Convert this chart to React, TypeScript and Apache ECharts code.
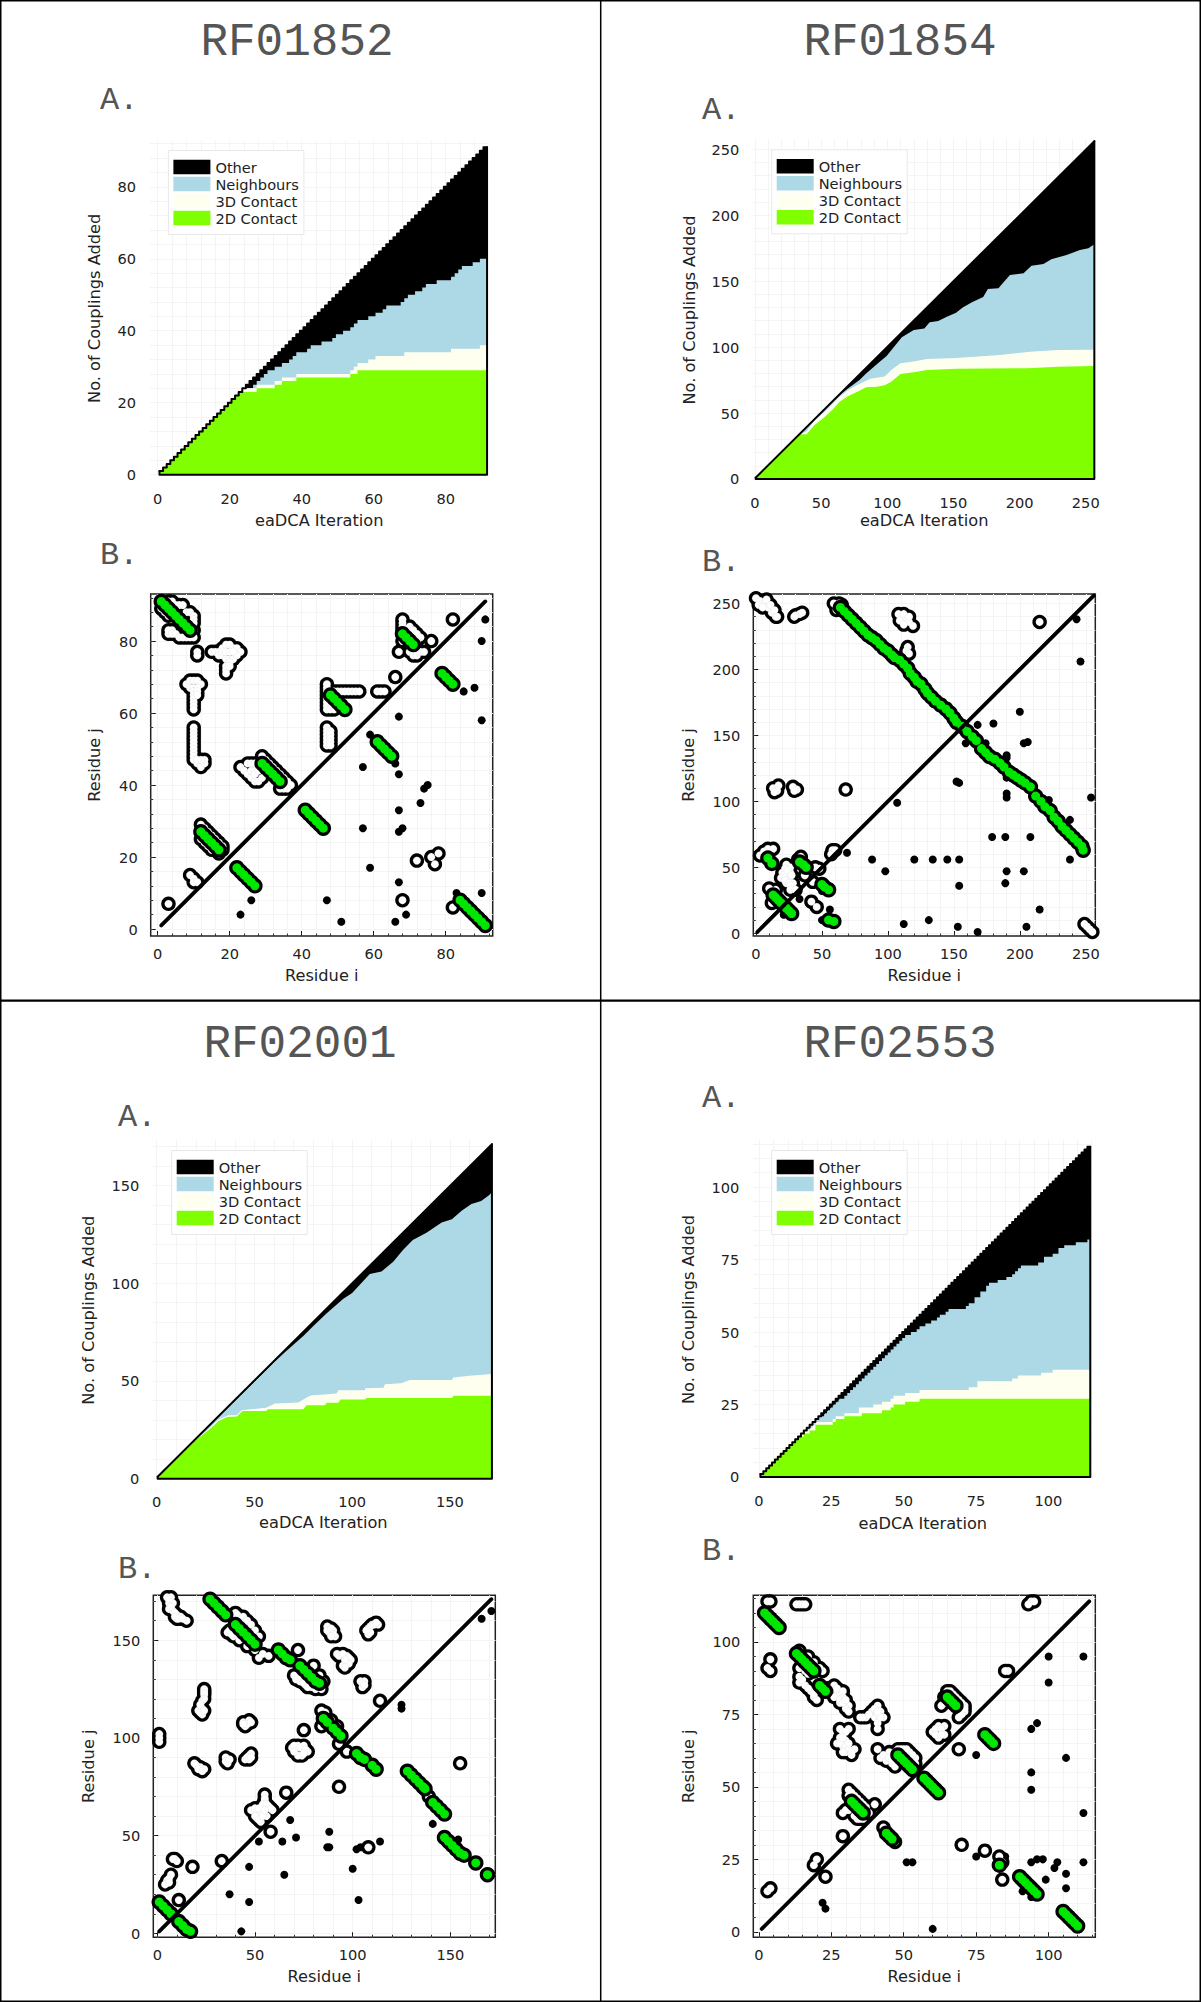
import React, { useEffect, useRef } from "react";
import * as echarts from "echarts";

// ---------- legend ----------
const legendNames = ["Other", "Neighbours", "3D Contact", "2D Contact"];

// ---------- RF01852, part A ----------
const rf01852Total = [1,2,3,4,5,6,7,8,9,10,11,12,13,14,15,16,17,18,19,20,21,22,23,24,25,26,27,28,29,30,31,32,33,34,35,36,37,38,39,40,41,42,43,44,45,46,47,48,49,50,51,52,53,54,55,56,57,58,59,60,61,62,63,64,65,66,67,68,69,70,71,72,73,74,75,76,77,78,79,80,81,82,83,84,85,86,87,88,89,90,91];
const rf01852Early = [[1,1],[2,2],[3,3],[4,4],[5,5],[6,6],[7,7],[8,8],[9,9],[10,10],[11,11],[12,12],[13,13],[14,14],[15,15],[16,16],[17,17],[18,18],[19,19],[20,20],[21,21],[22,22]];
const rf01852Green = [[23,23],[28,24],[33,25],[35,26],[39,27],[54,28],[56,29]];
const rf01852Cream = [[23,23],[24,24],[28,25],[33,26],[35,27],[39,28],[54,29],[55,30],[56,31],[59,32],[61,33],[69,34],[82,35],[90,36]];
const rf01852Blue = [[23,23],[24,24],[27,25],[28,26],[29,27],[30,28],[31,29],[33,30],[35,31],[37,32],[38,33],[39,34],[42,35],[43,36],[46,37],[49,38],[50,39],[52,40],[54,41],[55,42],[56,43],[59,44],[61,45],[63,46],[64,47],[68,48],[69,49],[70,50],[72,51],[74,52],[75,53],[78,54],[82,55],[83,56],[84,57],[85,58],[88,59],[90,60]];

// ---------- RF01854, part A ----------
const rf01854Total = [[0.5,1],[256.5,256]];
const rf01854Green = [[0.5,1],[34,33.9],[39,34],[45,41],[52,46.5],[58,52],[64,58.6],[70.5,63],[77,66],[84,69.5],[92,70],[98,71],[103,73.8],[110,79.6],[120,81],[130,82.6],[152,83.6],[206,84],[229,85],[256.5,85.6]];
const rf01854Cream = [[0.5,1],[34,34],[39,36],[45,44.7],[52,50],[58,56],[64,62.4],[70.5,67.5],[77,71],[87,76],[98,77.6],[103,82.6],[110,87.7],[120,89],[130,91],[152,91.7],[185,94],[208,96.5],[229,97.8],[256.5,98]];
const rf01854Blue = [[0.5,1],[60,60],[64,63.7],[70.5,68.7],[79,75],[84,80],[94.5,89],[99.5,93.2],[105,100],[111,107.4],[120,113],[128,114],[132,118.8],[138.5,119.8],[145,123],[152,126],[157,130],[164,134],[172.5,138],[176,144],[184,144.6],[192.7,154.7],[203,156],[209,161.7],[218,163],[224,166.5],[235.5,169.8],[245.6,173.6],[252,175],[256.5,178]];

// ---------- RF02001, part A ----------
const rf02001Total = [[0.5,1],[171.5,171]];
const rf02001Green = [[0.5,1],[20.5,20.2],[24,22.8],[28,26],[31.5,29.4],[36,31.5],[41,31.8],[44,34.6],[56,34.6],[57,35.5],[75,35.5],[76.7,37.5],[86,37.5],[87,38.8],[93,38.8],[94,40.5],[106.6,40.5],[107.4,41.3],[151,41.3],[152,42.4],[171.5,42.4]];
const rf02001Cream = [[0.5,1],[20.5,20.6],[24,23.3],[28,26.7],[31.5,30.3],[36.7,32.4],[41,32.4],[43.5,35],[56,36.3],[60.5,38.4],[72.5,39],[76.7,41.5],[79.3,42.7],[86,43],[92,43.6],[93,45.2],[106.6,45.2],[106.6,46.2],[116,46.5],[116.8,48.3],[125,48.8],[129.6,50.5],[151,50.5],[151.7,51.7],[160,52.6],[171.5,53.6]];
const rf02001Blue = [[0.5,1],[60,59.5],[66,65],[75,73],[80,78],[87,84.6],[95.5,92],[100,95],[109,104.7],[115,106],[121,111],[126,117],[131,122],[138,125.8],[145.8,131],[151,132.7],[156,137],[161,140.5],[166,142],[170,145],[171.5,146.5]];

// ---------- RF02553, part A ----------
const rf02553Total = [1,2,3,4,5,6,7,8,9,10,11,12,13,14,15,16,17,18,19,20,21,22,23,24,25,26,27,28,29,30,31,32,33,34,35,36,37,38,39,40,41,42,43,44,45,46,47,48,49,50,51,52,53,54,55,56,57,58,59,60,61,62,63,64,65,66,67,68,69,70,71,72,73,74,75,76,77,78,79,80,81,82,83,84,85,86,87,88,89,90,91,92,93,94,95,96,97,98,99,100,101,102,103,104,105,106,107,108,109,110,111,112,113,114];
const rf02553Early = [[1,1],[2,2],[3,3],[4,4],[5,5],[6,6],[7,7],[8,8],[9,9],[10,10],[11,11],[12,12],[13,13],[14,14]];
const rf02553Green = [[16,15],[18,16],[20,18],[26,19],[27,20],[30,21],[36,22],[43,23],[46,24],[47,25],[51,26],[56,27]];
const rf02553Cream = [[15,15],[16,16],[18,17],[19,18],[20,19],[26,20],[27,21],[30,22],[35,24],[40,25],[43,26],[46,27],[47,28],[51,29],[56,30],[73,31],[76,33],[88,34],[90,35],[98,36],[102,37]];
const rf02553Blue = [[15,15],[16,16],[17,17],[18,18],[19,19],[20,20],[21,21],[23,22],[24,23],[25,24],[26,25],[27,26],[28,27],[30,28],[31,29],[32,30],[33,31],[34,32],[35,33],[36,34],[37,35],[38,36],[39,37],[40,38],[41,39],[42,40],[43,41],[44,42],[45,43],[46,44],[47,45],[48,46],[49,47],[50,48],[51,49],[53,50],[55,51],[56,52],[58,53],[60,54],[62,55],[63,56],[65,57],[66,58],[72,59],[73,60],[75,62],[77,64],[79,66],[80,67],[83,68],[86,69],[88,70],[89,71],[90,72],[91,73],[97,74],[99,76],[102,77],[104,79],[106,80],[110,81],[114,82]];

// ---------- RF01852, part B ----------
const rf01852Diag = [[1,1],[91,91]];
const rf01852Other = [[23,4],[26,8],[47,8],[51,2],[66,2],[69,4],[67,13],[59,17],[67,27],[57,28],[67,33],[73,35],[74,39],[75,40],[67,43],[66,46],[57,45],[59,54],[67,59],[90,58],[85,66],[88,67],[90,80],[91,86],[83,10],[90,10],[44,29],[17,21],[68,28]];
const rf01852White = [[3,7],[9,15],[10,14],[10,13],[11,13],[12,29],[13,28],[14,27],[15,26],[16,25],[17,24],[18,23],[18,22],[17,21],[12,25],[13,24],[14,23],[15,22],[16,22],[3,91],[4,91],[5,90],[6,90],[7,90],[8,88],[9,88],[10,87],[10,86],[1,89],[2,88],[3,87],[3,82],[4,83],[3,83],[4,82],[5,82],[6,81],[7,81],[8,81],[9,81],[10,81],[10,83],[10,85],[11,77],[11,76],[15,77],[16,77],[17,77],[18,78],[19,79],[20,79],[21,78],[22,78],[23,77],[17,76],[18,76],[19,75],[20,75],[21,75],[22,76],[20,74],[19,73],[19,72],[19,71],[20,73],[18,77],[19,77],[20,77],[21,77],[8,68],[9,69],[10,69],[11,69],[12,68],[9,67],[10,67],[11,67],[10,66],[10,65],[10,64],[10,63],[10,62],[10,61],[11,66],[11,65],[10,56],[10,55],[10,54],[10,53],[10,52],[10,51],[10,50],[10,49],[10,48],[10,47],[11,46],[12,45],[13,46],[13,47],[12,47],[11,47],[47,68],[47,67],[47,66],[47,65],[47,64],[47,63],[47,62],[47,61],[48,61],[49,61],[49,66],[50,66],[51,66],[52,66],[53,66],[54,66],[55,66],[56,66],[47,56],[47,55],[47,54],[47,53],[47,52],[47,51],[48,55],[48,54],[48,53],[48,52],[48,51],[61,66],[62,66],[63,66],[66,70],[67,77],[68,86],[68,85],[68,84],[68,83],[68,82],[68,80],[70,84],[71,83],[72,82],[73,81],[72,80],[70,77],[71,76],[72,76],[73,77],[74,77],[76,80],[82,86],[23,45],[24,44],[25,43],[26,42],[27,41],[28,41],[29,42],[25,46],[26,46],[27,46],[26,44],[27,44],[27,43],[28,44],[29,48],[30,47],[31,46],[32,45],[33,44],[34,43],[35,42],[36,41],[37,40],[36,39],[35,39],[34,39],[72,19],[76,20],[78,21],[77,18],[68,8],[82,6]];
const rf01852Contact = [[1,91],[2,90],[3,89],[4,88],[5,87],[6,86],[7,85],[8,84],[9,83],[12,27],[13,26],[14,25],[15,24],[16,23],[17,22],[22,17],[23,16],[24,15],[25,14],[26,13],[27,12],[29,46],[30,45],[31,44],[32,43],[33,42],[34,41],[41,33],[42,32],[43,31],[44,30],[45,29],[46,28],[48,65],[49,64],[50,63],[51,62],[52,61],[61,52],[62,51],[63,50],[64,49],[65,48],[68,82],[69,81],[70,80],[71,79],[79,71],[80,70],[81,69],[82,68],[84,8],[85,7],[86,6],[87,5],[88,4],[89,3],[90,2],[91,1]];

// ---------- RF01854, part B ----------
const rf01854Diag = [[1,1],[256,256]];
const rf01854Other = [[107,99],[152,115],[154,114],[69,61],[88,56],[98,47],[120,56],[134,56],[145,56],[154,56],[154,36],[112,7],[131,10],[153,5],[168,1],[205,5],[215,18],[203,47],[190,47],[189,38],[179,73],[189,73],[208,73],[238,56],[238,86],[222,101],[254,103],[190,103],[190,106],[190,118],[190,133],[190,135],[203,144],[206,145],[200,168],[180,159],[168,158],[159,144],[174,144],[243,238],[246,206],[56,18],[50,10],[21,14],[60,7],[50,32],[33,26]];
const rf01854White = [[0,254],[3,252],[6,250],[9,247],[12,243],[15,240],[16,240],[2,249],[5,247],[8,253],[11,249],[14,245],[30,241],[33,242],[35,243],[29,240],[59,250],[61,245],[63,250],[65,249],[108,242],[110,240],[113,238],[116,236],[119,233],[112,242],[116,240],[109,237],[112,234],[115,217],[114,214],[116,212],[215,236],[13,110],[17,112],[16,108],[14,107],[28,111],[31,109],[29,108],[68,109],[58,63],[57,60],[60,63],[9,64],[13,64],[3,59],[6,62],[23,52],[26,50],[20,46],[23,46],[26,46],[19,42],[22,42],[25,41],[28,38],[23,38],[22,49],[24,44],[21,44],[24,48],[27,44],[22,40],[25,38],[26,36],[10,34],[15,33],[12,23],[15,25],[26,33],[30,33],[37,44],[43,39],[45,50],[48,49],[42,24],[46,20],[32,56],[34,58],[249,7],[251,5],[253,3],[255,1]];
const rf01854Contact = [[64,247],[67,244],[70,241],[73,238],[76,235],[79,232],[82,229],[85,226],[88,224],[91,222],[94,219],[97,216],[100,214],[103,211],[105,209],[109,207],[112,204],[115,201],[117,197],[120,194],[122,191],[125,189],[128,185],[130,182],[133,179],[136,176],[140,173],[144,170],[147,167],[150,163],[152,160],[156,157],[160,153],[164,149],[167,146],[171,140],[174,137],[177,134],[181,132],[185,129],[188,126],[192,122],[195,120],[198,118],[201,116],[204,114],[208,111],[212,104],[216,100],[219,96],[223,93],[226,88],[229,85],[232,81],[235,78],[238,75],[241,72],[244,69],[247,66],[248,63],[9,57],[12,53],[33,54],[36,52],[38,50],[50,37],[52,35],[55,33],[13,29],[15,27],[17,25],[19,23],[21,21],[23,19],[25,17],[27,15],[55,10],[59,9]];

// ---------- RF02001, part B ----------
const rf02001Diag = [[1,1],[171,171]];
const rf02001Other = [[43,1],[47,16],[37,20],[47,34],[65,30],[52,47],[64,47],[71,49],[68,58],[88,52],[87,44],[88,44],[102,43],[104,44],[114,47],[100,33],[103,17],[141,56],[125,117],[125,115],[166,161],[171,165],[154,48],[56,58]];
const rf02001White = [[5,172],[7,172],[6,169],[8,169],[6,166],[8,165],[10,163],[10,161],[12,162],[15,160],[6,171],[7,167],[9,164],[9,162],[11,161],[13,161],[36,154],[39,152],[37,155],[38,153],[39,163],[40,164],[41,163],[43,161],[44,162],[45,160],[46,160],[48,158],[50,155],[52,152],[42,150],[46,147],[50,145],[52,141],[54,143],[57,142],[87,157],[88,154],[91,152],[90,155],[87,155],[89,156],[90,153],[89,152],[108,153],[108,156],[110,158],[113,158],[109,157],[111,158],[109,154],[107,155],[112,159],[92,143],[97,142],[99,140],[95,137],[97,139],[93,142],[95,143],[98,141],[98,138],[96,136],[96,140],[72,145],[70,132],[73,129],[76,127],[79,126],[84,125],[71,130],[72,131],[75,128],[77,126],[81,125],[82,126],[80,137],[83,132],[85,129],[104,129],[106,129],[105,126],[105,128],[106,127],[114,119],[24,125],[24,122],[23,119],[21,114],[23,112],[23,115],[24,124],[24,123],[24,120],[22,117],[22,113],[24,114],[44,108],[45,106],[47,109],[46,107],[44,107],[48,108],[1,102],[1,98],[1,100],[84,114],[84,106],[86,113],[89,109],[92,106],[75,104],[93,97],[97,93],[69,95],[72,96],[75,96],[77,93],[74,91],[70,96],[73,95],[76,94],[72,91],[70,93],[75,92],[48,92],[45,89],[47,91],[46,90],[47,89],[48,90],[35,90],[36,87],[35,88],[37,89],[19,87],[22,85],[24,84],[20,86],[21,84],[23,83],[155,87],[93,75],[66,72],[55,71],[55,68],[57,65],[59,63],[51,62],[48,63],[53,62],[51,59],[53,57],[56,60],[55,69],[54,66],[56,66],[58,64],[50,60],[52,58],[50,64],[54,60],[52,64],[55,63],[58,52],[33,37],[9,38],[10,37],[8,38],[18,34],[7,30],[5,27],[4,25],[6,28],[6,26],[11,17],[108,44],[139,70]];
const rf02001Contact = [[27,171],[29,169],[31,167],[33,165],[35,163],[40,158],[42,156],[44,154],[46,152],[48,150],[50,148],[62,145],[64,143],[66,141],[68,140],[73,137],[75,135],[77,133],[79,131],[81,129],[83,128],[85,110],[87,108],[90,105],[92,103],[94,101],[102,92],[104,90],[106,89],[110,86],[112,84],[128,83],[130,81],[132,79],[134,77],[136,75],[137,74],[141,67],[143,65],[145,63],[147,61],[147,49],[149,47],[151,45],[153,43],[155,41],[157,40],[163,36],[169,30],[1,16],[3,14],[5,12],[7,10],[11,6],[13,4],[15,2],[17,1]];

// ---------- RF02553, part B ----------
const rf02553Diag = [[1,1],[114,114]];
const rf02553Other = [[60,1],[22,10],[23,8],[51,24],[53,24],[75,26],[85,26],[94,24],[96,25],[98,25],[99,18],[102,22],[103,24],[106,20],[106,15],[112,24],[112,41],[106,60],[94,49],[94,55],[94,70],[96,72],[75,61],[100,86],[100,95],[112,95],[91,14],[94,12]];
const rf02553White = [[3,114],[4,114],[13,113],[14,113],[15,113],[16,113],[94,114],[93,113],[95,114],[4,94],[3,91],[4,90],[86,90],[85,90],[22,90],[21,91],[14,86],[16,85],[18,83],[19,81],[20,80],[14,88],[15,87],[17,84],[19,82],[26,85],[27,83],[28,82],[29,81],[30,79],[31,78],[30,77],[31,76],[28,79],[26,81],[24,84],[27,84],[28,80],[29,79],[30,80],[29,83],[14,97],[17,95],[19,93],[20,91],[14,91],[16,90],[17,89],[35,74],[37,74],[39,76],[41,78],[42,76],[43,74],[40,74],[41,72],[41,70],[36,74],[38,75],[40,77],[41,75],[42,74],[41,76],[28,70],[31,70],[28,67],[27,65],[29,64],[30,62],[32,61],[33,63],[30,66],[29,69],[30,69],[28,65],[29,67],[30,64],[31,63],[29,62],[31,65],[32,62],[41,63],[42,60],[44,59],[46,58],[47,57],[45,62],[47,62],[43,61],[45,60],[46,59],[48,63],[50,63],[52,62],[54,60],[54,58],[53,57],[49,63],[51,63],[53,61],[60,69],[62,71],[64,71],[64,68],[62,67],[61,70],[63,70],[61,68],[63,68],[63,78],[64,81],[65,83],[67,82],[69,80],[71,78],[71,76],[69,74],[70,75],[64,79],[66,83],[68,81],[70,79],[71,77],[69,63],[31,49],[33,47],[35,45],[37,43],[38,41],[29,41],[31,42],[34,39],[36,39],[40,44],[31,47],[32,43],[32,48],[34,46],[36,44],[30,42],[33,40],[35,39],[29,33],[43,36],[47,31],[20,25],[19,23],[23,19],[3,14],[4,15],[70,30],[78,28],[83,26],[84,24],[84,18]];
const rf02553Contact = [[2,110],[3,109],[4,108],[5,107],[6,106],[7,105],[13,96],[14,95],[15,94],[16,93],[17,92],[18,91],[19,90],[21,85],[22,84],[23,83],[32,45],[33,44],[34,43],[35,42],[36,41],[44,34],[45,33],[46,32],[48,61],[49,60],[50,59],[51,58],[52,57],[53,56],[57,53],[58,52],[59,51],[60,50],[61,49],[62,48],[65,81],[66,80],[67,79],[68,78],[78,68],[79,67],[80,66],[81,65],[83,23],[90,19],[91,18],[92,17],[93,16],[94,15],[95,14],[96,13],[105,7],[106,6],[107,5],[108,4],[109,3],[110,2]];

// ---------- tick labels ----------
const rf01852Ticks = [0,20,40,60,80];
const rf01852Minor = [0,4,8,12,16,20,24,28,32,36,40,44,48,52,56,60,64,68,72,76,80,84,88,92];
const rf01854Ticks = [0,50,100,150,200,250];
const rf01854Minor = [0,10,20,30,40,50,60,70,80,90,100,110,120,130,140,150,160,170,180,190,200,210,220,230,240,250];
const rf02001Ticks = [0,50,100,150];
const rf02001Minor = [0,10,20,30,40,50,60,70,80,90,100,110,120,130,140,150,160,170];
const rf02553Ticks = [0,25,50,75,100];
const rf02553Minor = [0,5,10,15,20,25,30,35,40,45,50,55,60,65,70,75,80,85,90,95,100,105,110,115];

const BLACK = "#000000";
const BLUE = "#ADD8E6";
const CREAM = "#FFFFF0";
const LAWN = "#7FFF00";
const GREEN = "#00E600";
const TEXT = "#222222";
const FONT = "DejaVu Sans";
const MONO = "Liberation Mono";

const steps = (list: number[][], n: number) => {
  const pts = list.map(([i, v]) => [i - 0.5, v]);
  pts.push([n + 0.5, list[list.length - 1][1]]);
  return pts;
};

const partA = [
  { l: 150, t: 140, r: 488.5, b: 476.7, xMin: -2.14, xMax: 91.9, yMin: -0.56, yMax: 93, gapY: 48, gapX: 36, ticks: rf01852Ticks, minor: rf01852Minor, n: 91,
    total: steps(rf01852Total.map((v, k) => [k + 1, v]), 91),
    green: steps([...rf01852Early, ...rf01852Green], 91), cream: steps([...rf01852Early, ...rf01852Cream], 91), blue: steps([...rf01852Early, ...rf01852Blue], 91), step: "end" },
  { l: 753.3, t: 139.3, r: 1095, b: 480.7, xMin: -1.28, xMax: 257, yMin: -1.3, yMax: 257.5, gapY: 56, gapX: 32, ticks: rf01854Ticks, minor: rf01854Minor, n: 256,
    total: rf01854Total, green: rf01854Green, cream: rf01854Cream, blue: rf01854Blue, step: false },
  { l: 153.3, t: 1140, r: 493.3, b: 1480.4, xMin: -1.73, xMax: 172.2, yMin: -0.87, yMax: 173.2, gapY: 57, gapX: 34, ticks: rf02001Ticks, minor: rf02001Minor, n: 171,
    total: rf02001Total, green: rf02001Green, cream: rf02001Cream, blue: rf02001Blue, step: false },
  { l: 753.3, t: 1140, r: 1092.3, b: 1479, xMin: -1.97, xMax: 115.2, yMin: -0.7, yMax: 116.3, gapY: 57, gapX: 36, ticks: rf02553Ticks, minor: rf02553Minor, n: 114,
    total: steps(rf02553Total.map((v, k) => [k + 1, v]), 114),
    green: steps([...rf02553Early, [15,14], ...rf02553Green], 114), cream: steps([...rf02553Early, ...rf02553Cream], 114), blue: steps([...rf02553Early, ...rf02553Blue], 114), step: "end" },
];

const partB = [
  { l: 150.7, t: 594, min: -1.94, max: 93.06, gapY: 48.5, ticks: rf01852Ticks, minor: rf01852Minor, diag: rf01852Diag, other: rf01852Other, white: rf01852White, contact: rf01852Contact },
  { l: 753.3, t: 594, min: -2.05, max: 257.2, gapY: 57, ticks: rf01854Ticks, minor: rf01854Minor, diag: rf01854Diag, other: rf01854Other, white: rf01854White, contact: rf01854Contact },
  { l: 153.3, t: 1595.3, min: -2.05, max: 173, gapY: 57, ticks: rf02001Ticks, minor: rf02001Minor, diag: rf02001Diag, other: rf02001Other, white: rf02001White, contact: rf02001Contact },
  { l: 753.3, t: 1595.3, min: -1.9, max: 116.1, gapY: 57, ticks: rf02553Ticks, minor: rf02553Minor, diag: rf02553Diag, other: rf02553Other, white: rf02553White, contact: rf02553Contact },
];

const titles = [
  { text: "RF01852", x: 297, y: 43 },
  { text: "RF01854", x: 900, y: 43 },
  { text: "RF02001", x: 300, y: 1045 },
  { text: "RF02553", x: 900, y: 1045 },
];
const letters = [
  { text: "A.", x: 100, y: 100 },
  { text: "B.", x: 100, y: 555 },
  { text: "A.", x: 702, y: 110 },
  { text: "B.", x: 702, y: 562 },
  { text: "A.", x: 118, y: 1117 },
  { text: "B.", x: 118, y: 1569 },
  { text: "A.", x: 702, y: 1098 },
  { text: "B.", x: 702, y: 1551 },
];

const SIZE_B = 342;

function axisPair(opts: any) {
  const { gridIndex, min, max, ticks, minor, name, gap, margin, framed, isX } = opts;
  const common = { type: "value", gridIndex, min, max, position: isX ? "bottom" : "left", axisLine: { show: false, onZero: false } };
  const nameCfg = { name, nameLocation: "middle", nameGap: gap, nameTextStyle: { fontFamily: FONT, fontSize: 16.2, color: TEXT } };
  return [
    { ...common, ...nameCfg,
      axisTick: { show: framed, inside: true, length: 5, customValues: ticks, lineStyle: { color: "#111", width: 1 } },
      axisLabel: { customValues: ticks, margin, fontFamily: FONT, fontSize: 14.6, color: TEXT },
      splitLine: { show: true, lineStyle: { color: "#ececec", width: 1 } } },
    { ...common,
      axisTick: { show: framed, inside: true, length: 2.5, customValues: minor, lineStyle: { color: "#333", width: 1 } },
      axisLabel: { show: false },
      splitLine: { show: true, lineStyle: { color: "#f4f4f4", width: 1 } } },
  ];
}

function buildOption() {
  const grid: any[] = [];
  const xAxis: any[] = [];
  const yAxis: any[] = [];
  const series: any[] = [];
  const legend: any[] = [];

  partA.forEach((p) => {
    const gi = grid.length;
    grid.push({ left: p.l, top: p.t, width: p.r - p.l, height: p.b - p.t, show: false, containLabel: false });
    const xi = xAxis.length;
    const yi = yAxis.length;
    xAxis.push(...axisPair({ gridIndex: gi, min: p.xMin, max: p.xMax, ticks: p.ticks, minor: p.minor, name: "eaDCA Iteration", gap: p.gapX, margin: 14, framed: false, isX: true }));
    yAxis.push(...axisPair({ gridIndex: gi, min: p.yMin, max: p.yMax, ticks: p.ticks, minor: p.minor, name: "No. of Couplings Added", gap: p.gapY, margin: 14, framed: false, isX: false }));
    const layer = (name: string, data: any, color: string, lineWidth: number, area = true, step: any = p.step) => ({
      type: "line", name, data, xAxisIndex: xi, yAxisIndex: yi, step, symbol: "none", silent: true,
      itemStyle: { color },
      lineStyle: { color, width: lineWidth, cap: "round", join: "round" },
      ...(area ? { areaStyle: { color, opacity: 1 } } : {}),
    });
    const outline = [[p.n + 0.5, p.n], [p.n + 0.5, 0], [0.5, 0], [0.5, 1]];
    series.push(layer("Other", p.total, BLACK, 2));
    series.push(layer("Outline", outline, BLACK, 2, false, false));
    series.push(layer("Neighbours", p.blue, BLUE, 0));
    series.push(layer("3D Contact", p.cream, CREAM, 0));
    series.push(layer("2D Contact", p.green, LAWN, 0));
    legend.push({
      data: legendNames, orient: "vertical", left: p.l + 18.4, top: p.t + 10.5, icon: "rect", itemWidth: 37, itemHeight: 14.5, itemGap: 2,
      itemStyle: { borderWidth: 0 }, lineStyle: { width: 0 },
      padding: [9, 5, 9, 5], backgroundColor: "#fff", borderColor: "#e8e8e8", borderWidth: 1, selectedMode: false,
      textStyle: { fontFamily: FONT, fontSize: 14.6, color: TEXT },
    });
  });

  partB.forEach((p) => {
    const gi = grid.length;
    grid.push({ left: p.l, top: p.t, width: SIZE_B, height: SIZE_B, show: true, borderColor: "#222", borderWidth: 1.5, backgroundColor: "transparent", containLabel: false });
    const xi = xAxis.length;
    const yi = yAxis.length;
    xAxis.push(...axisPair({ gridIndex: gi, min: p.min, max: p.max, ticks: p.ticks, minor: p.minor, name: "Residue i", gap: 31, margin: 10, framed: true, isX: true }));
    yAxis.push(...axisPair({ gridIndex: gi, min: p.min, max: p.max, ticks: p.ticks, minor: p.minor, name: "Residue j", gap: p.gapY, margin: 13, framed: true, isX: false }));
    const dots = (name: string, data: any, size: number, color: string, border?: string) => ({
      type: "scatter", name, data, xAxisIndex: xi, yAxisIndex: yi, symbol: "circle", symbolSize: size, clip: true, silent: true,
      itemStyle: { color, opacity: 1, ...(border ? { borderColor: border, borderWidth: 0.5 } : {}) },
    });
    series.push({ type: "line", name: "Diagonal", data: p.diag, xAxisIndex: xi, yAxisIndex: yi, symbol: "none", silent: true, lineStyle: { color: BLACK, width: 3.8, cap: "round" } });
    series.push(dots("Other contact", p.other, 8, BLACK));
    series.push(dots("3D outline", p.white, 14.5, BLACK));
    series.push(dots("3D fill", p.white, 7.8, "#FFFFFF", "rgba(170,170,170,0.3)"));
    series.push(dots("2D outline", p.contact, 15.5, BLACK));
    series.push(dots("2D fill", p.contact, 9, GREEN));
  });

  const graphic: any[] = [
    { type: "rect", silent: true, shape: { x: 0.75, y: 0.75, width: 1199.5, height: 2000.5 }, style: { fill: "none", stroke: "#000", lineWidth: 1.5 } },
    { type: "line", silent: true, shape: { x1: 0, y1: 1000.7, x2: 1201, y2: 1000.7 }, style: { stroke: "#000", lineWidth: 2.2 } },
    { type: "line", silent: true, shape: { x1: 600.7, y1: 0, x2: 600.7, y2: 2002 }, style: { stroke: "#000", lineWidth: 1.5 } },
    ...titles.map((t) => ({ type: "text", silent: true, x: t.x, y: t.y, style: { text: t.text, fontFamily: MONO, fontSize: 46, fill: "#555555", textAlign: "center", textVerticalAlign: "middle" } })),
    ...letters.map((t) => ({ type: "text", silent: true, x: t.x, y: t.y, style: { text: t.text, fontFamily: MONO, fontSize: 32, fill: "#555555", textAlign: "left", textVerticalAlign: "middle" } })),
  ];

  return { animation: false, backgroundColor: "#fff", grid, xAxis, yAxis, series, legend, graphic };
}

export default function App() {
  const ref = useRef<HTMLDivElement>(null);
  useEffect(() => {
    document.body.style.margin = "0";
    const chart = echarts.init(ref.current!, undefined, { renderer: "svg" });
    chart.setOption(buildOption() as any);
    return () => chart.dispose();
  }, []);
  return <div ref={ref} style={{ width: 1201, height: 2002, display: "block" }} />;
}
